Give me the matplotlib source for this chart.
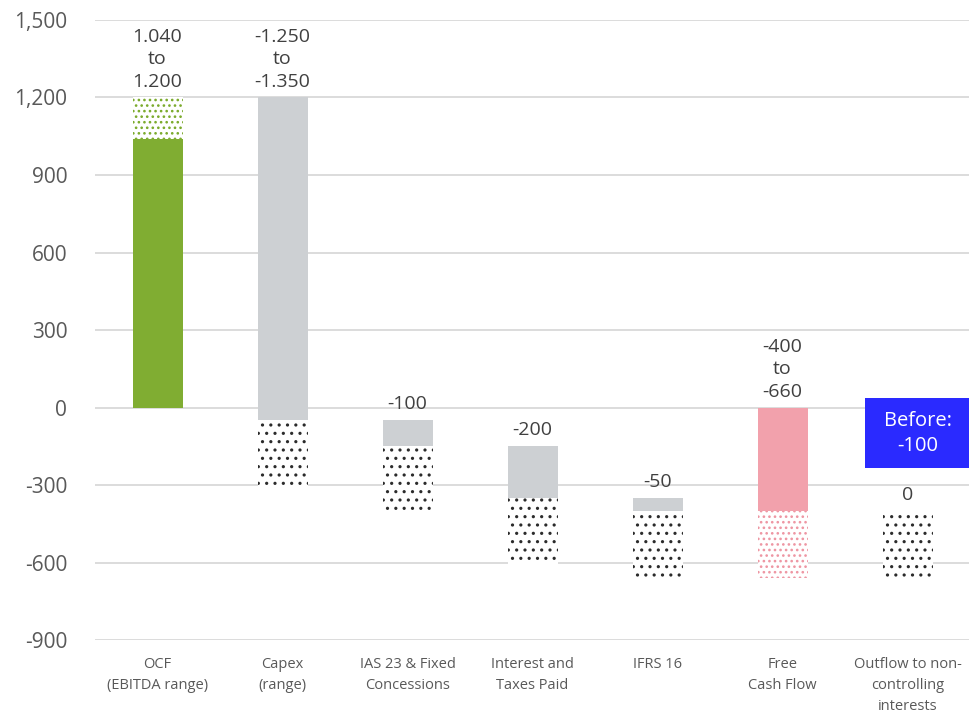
import matplotlib
matplotlib.use("Agg")
import matplotlib.pyplot as plt
from matplotlib.patches import Rectangle

plt.rcParams['font.family'] = ['Open Sans', 'DejaVu Sans']
plt.rcParams['hatch.linewidth'] = 1.1

categories = ["OCF\n(EBITDA range)", "Capex\n(range)", "IAS 23 & Fixed\nConcessions",
              "Interest and\nTaxes Paid", "IFRS 16", "Free\nCash Flow",
              "Outflow to non-\ncontrolling\ninterests"]
solid_base = [0, 1200, -50, -150, -350, 0, -400]
solid_height = [1040, -1250, -100, -200, -50, -400, 0]
range_base = [1040, -50, -150, -350, -400, -400, -400]
range_height = [160, -260, -260, -260, -260, -260, -260]
value_labels = ["1.040\nto\n1.200", "-1.250\nto\n-1.350", "-100", "-200", "-50",
                "-400\nto\n-660", "0"]
yticks = [-900, -600, -300, 0, 300, 600, 900, 1200, 1500]
note_text = "Before:\n-100"
note_value = -100

solid_colors = ["#80AD32", "#CDD0D3", "#CDD0D3", "#CDD0D3", "#CDD0D3", "#F2A1AC", "#CDD0D3"]
hatch_colors = ["#7AAA2A", "#2B2B2B", "#2B2B2B", "#2B2B2B", "#2B2B2B", "#EE95A2", "#2B2B2B"]
hatches = ["...", "..", "..", "..", "..", "...", ".."]

fig = plt.figure(figsize=(9.7, 7.14), dpi=100)
ax = fig.add_axes([0.098, 0.1036, 0.902, 0.8684])

x = list(range(len(categories)))
w = 0.4
ax.bar(x, solid_height, bottom=solid_base, width=w, color=solid_colors, linewidth=0, zorder=3)
for i in x:
    ax.bar(i, range_height[i], bottom=range_base[i], width=w, color="white",
           edgecolor=hatch_colors[i], hatch=hatches[i], linewidth=0, zorder=3)

for i in x:
    tops = [solid_base[i], solid_base[i] + solid_height[i],
            range_base[i], range_base[i] + range_height[i]]
    top = max(tops)
    ax.annotate(value_labels[i], (i, top), xytext=(0, 5), textcoords="offset points",
                ha="center", va="bottom", fontsize=14, color="#404040",
                linespacing=1.3, zorder=4)

# note box
ax.add_patch(Rectangle((6 - 0.34, note_value - 134), 0.84, 271, facecolor="#2A2AFF",
                       edgecolor="none", zorder=5, clip_on=False))
ax.text(6 + 0.08, note_value, note_text, ha="center", va="center", color="white",
        fontsize=14.5, zorder=6, linespacing=1.3)

ax.set_ylim(-900, 1500)
ax.set_xlim(-0.5, len(categories) - 0.5)
ax.set_yticks(yticks)
ax.set_yticklabels([f"{v:,}" for v in yticks], fontsize=15, color="#595959")
ax.set_xticks(x)
ax.set_xticklabels(categories, fontsize=10.5, color="#595959", linespacing=1.55)
ax.tick_params(axis="both", length=0)
ax.tick_params(axis="y", pad=20)
ax.tick_params(axis="x", pad=12)
ax.yaxis.grid(True, color="#D9D9D9", linewidth=1.3, zorder=0)
ax.set_axisbelow(True)
for s in ax.spines.values():
    s.set_visible(False)

fig.savefig("out.png", dpi=100)
